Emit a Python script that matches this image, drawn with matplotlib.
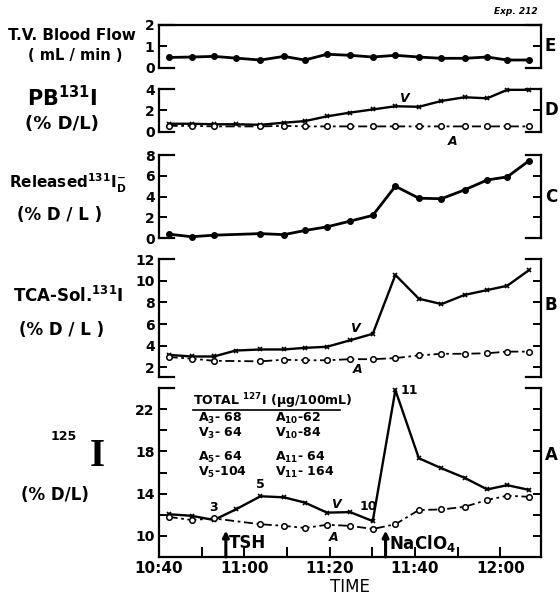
import numpy as np
import matplotlib
matplotlib.use('Agg')
import matplotlib.pyplot as plt

plt.rcParams['font.family'] = ['DejaVu Sans']
plt.rcParams['font.weight'] = 'bold'
plt.rcParams['mathtext.fontset'] = 'dejavusans'
plt.rcParams['mathtext.default'] = 'bf'

nan = np.nan

# minutes after 10:40 for each sample
minutes = [2.3, 7.7, 12.9, 18.0, 23.8, 29.3, 34.2, 39.4, 44.8, 50.1,
           55.4, 60.9, 66.2, 71.6, 76.9, 81.6, 86.7]
tsh_time = 15.7
naclo4_time = 53.1

time_ticks = [0, 20, 40, 60, 80]
time_labels = ['10:40', '11:00', '11:20', '11:40', '12:00']

flow = [0.48, 0.50, 0.53, 0.45, 0.36, 0.53, 0.36, 0.63, 0.58, 0.50,
        0.58, 0.50, 0.44, 0.44, 0.50, 0.36, 0.36]

pb_v = [0.75, 0.75, 0.7, 0.7, 0.65, 0.85, 1.0, 1.45, 1.8, 2.1,
        2.4, 2.35, 2.9, 3.25, 3.15, 3.95, 3.95]
pb_a = [0.55, 0.55, 0.5, nan, 0.5, 0.55, 0.5, 0.5, 0.5, 0.5,
        0.5, 0.5, 0.5, 0.5, 0.5, 0.5, 0.5]

released = [0.4, 0.15, 0.3, nan, 0.45, 0.35, 0.75, 1.1, 1.65, 2.2,
            5.0, 3.85, 3.8, 4.65, 5.6, 5.9, 7.45]

tca_v = [3.15, 3.0, 3.0, 3.55, 3.65, 3.65, 3.8, 3.9, 4.5, 5.1,
         10.55, 8.35, 7.85, 8.7, 9.15, 9.55, 11.0]
tca_a = [2.95, 2.8, 2.6, nan, 2.55, 2.7, 2.65, 2.65, 2.75, 2.75,
         2.85, 3.1, 3.25, 3.25, 3.3, 3.45, 3.45]

i125_v = [12.05, 11.9, 11.5, 12.5, 13.75, 13.65, 13.15, 12.2, 12.25, 11.4,
          23.8, 17.35, 16.4, 15.5, 14.4, 14.8, 14.35]
i125_a = [11.8, 11.5, 11.65, nan, 11.1, 10.95, 10.75, 11.05, 10.95, 10.65,
          11.1, 12.45, 12.5, 12.75, 13.4, 13.8, 13.7]

W, H = 560, 599
t = np.array(minutes)


def fpos(x, y):
    return x / W, 1 - y / H


def box(top, bottom):
    left, right = 158.8, 541
    return [left / W, 1 - bottom / H, (right - left) / W, (bottom - top) / H]


def frame(ax, ylim, yticks):
    ax.set_xlim(0, 89.5)
    ax.set_ylim(*ylim)
    for s in ['top', 'bottom']:
        ax.spines[s].set_visible(False)
    for s in ['left', 'right']:
        ax.spines[s].set_linewidth(1.6)
    ax.set_yticks(yticks)
    ax.tick_params(axis='y', which='both', direction='in', left=True, right=True,
                   length=6, width=1.4, labelsize=10, pad=3)
    ax.set_xticks([])
    for y in ylim:
        ax.axhline(y, xmin=0, xmax=0.04, color='k', lw=1.6, clip_on=False)
        ax.axhline(y, xmin=0.96, xmax=1, color='k', lw=1.6, clip_on=False)
    ax.patch.set_alpha(0)


def solid(ax, y):
    y = np.array(y)
    k = ~np.isnan(y)
    ax.plot(t[k], y[k], '-o', color='k', lw=2, ms=4, clip_on=False)


def vline(ax, y):
    y = np.array(y)
    k = ~np.isnan(y)
    ax.plot(t[k], y[k], '-x', color='k', lw=1.7, ms=3.5, mew=1.2, clip_on=False)


def aline(ax, y):
    y = np.array(y)
    k = ~np.isnan(y)
    ax.plot(t[k], y[k], marker='o', ls=(0, (5, 2, 1.5, 2)), color='k', lw=1.3,
            ms=4, mfc='white', mew=1.1, clip_on=False)


fig = plt.figure(figsize=(W / 100, H / 100), dpi=100)

# E: blood flow
axE = fig.add_axes(box(25, 67.7))
frame(axE, (0, 2), [0, 1, 2])
axE.spines['top'].set_visible(True)
axE.spines['top'].set_linewidth(1.6)
solid(axE, flow)

# D: PB131I
axD = fig.add_axes(box(89.3, 131.7))
frame(axD, (0, 4), [0, 2, 4])
vline(axD, pb_v)
aline(axD, pb_a)
axD.text(57.5, 2.5, 'V', fontsize=9, style='italic', ha='center', va='bottom')
axD.text(68.8, -0.35, 'A', fontsize=9, style='italic', ha='center', va='top')

# C: released
axC = fig.add_axes(box(155, 238.3))
frame(axC, (0, 8), [0, 2, 4, 6, 8])
solid(axC, released)

# B: TCA-soluble
axB = fig.add_axes(box(259.3, 377))
frame(axB, (1.1, 12), [2, 4, 6, 8, 10, 12])
vline(axB, tca_v)
aline(axB, tca_a)
axB.text(46, 5.0, 'V', fontsize=9, style='italic', ha='center', va='bottom')
axB.text(46.5, 2.4, 'A', fontsize=9, style='italic', ha='center', va='top')

# A: 125I
axA = fig.add_axes(box(388, 557))
axA.set_xlim(0, 89.5)
axA.set_ylim(8, 24)
axA.spines['top'].set_visible(False)
for s in ['left', 'right', 'bottom']:
    axA.spines[s].set_linewidth(1.6)
axA.set_yticks([10, 14, 18, 22])
axA.set_yticks([12, 16, 20, 24], minor=True)
axA.tick_params(axis='y', which='both', direction='in', left=True, right=True,
                length=6, width=1.4, labelsize=10, pad=3)
axA.set_xticks(time_ticks)
axA.set_xticklabels(time_labels)
axA.set_xticks([10, 30, 50, 70], minor=True)
axA.tick_params(axis='x', which='both', direction='in', length=7, width=1.4,
                labelsize=11, pad=3)
axA.axhline(24, xmin=0, xmax=0.04, color='k', lw=1.6, clip_on=False)
axA.axhline(24, xmin=0.96, xmax=1, color='k', lw=1.6, clip_on=False)
vline(axA, i125_v)
aline(axA, i125_a)
for i, lab in [(2, '3'), (4, '5'), (9, '10'), (10, '11')]:
    if lab == '11':
        axA.annotate(lab, (t[i], i125_v[i]), xytext=(4, 0), textcoords='offset points',
                     fontsize=9, ha='left', va='center')
    elif lab == '10':
        axA.annotate(lab, (t[i], i125_v[i]), xytext=(-3, 6), textcoords='offset points',
                     fontsize=9, ha='center', va='bottom')
    else:
        axA.annotate(lab, (t[i], i125_v[i]), xytext=(0, 4), textcoords='offset points',
                     fontsize=9, ha='center', va='bottom')
axA.text(41.5, 12.35, 'V', fontsize=9, style='italic', ha='center', va='bottom')
axA.text(41.0, 10.5, 'A', fontsize=9, style='italic', ha='center', va='top')

for tt, name in [(tsh_time, 'TSH'), (naclo4_time, 'NaClO$_4$')]:
    axA.annotate('', xy=(tt, 10.5), xytext=(tt, 8),
                 arrowprops=dict(arrowstyle='-|>', color='k', lw=2.2,
                                 mutation_scale=9, shrinkA=0, shrinkB=0))
    axA.text(tt + 0.8, 9.3, name, fontsize=12, ha='left', va='center')

axA.set_xlabel('TIME', fontsize=12, labelpad=1)

# table of total 127I
fig.text(*fpos(193, 401), 'TOTAL $^{127}$I ($\\mu$g/100mL)', fontsize=9, va='center')
fig.add_artist(plt.Line2D([193 / W, 340 / W], [1 - 409.5 / H, 1 - 409.5 / H],
                          color='k', lw=1.2))
rows = [(418, 'A$_3$- 68', 'A$_{10}$-62'), (433, 'V$_3$- 64', 'V$_{10}$-84'),
        (457, 'A$_5$- 64', 'A$_{11}$- 64'), (472, 'V$_5$-104', 'V$_{11}$- 164')]
for y, a, b in rows:
    fig.text(*fpos(198, y), a, fontsize=9, va='center')
    fig.text(*fpos(275, y), b, fontsize=9, va='center')

# left labels
fig.text(*fpos(72, 35), 'T.V. Blood Flow', fontsize=11, ha='center', va='center')
fig.text(*fpos(75, 56), '( mL / min )', fontsize=10.5, ha='center', va='center')
fig.text(*fpos(62, 98), 'PB$^{131}$I', fontsize=15, ha='center', va='center')
fig.text(*fpos(62, 124), '(% D/L)', fontsize=13, ha='center', va='center')
fig.text(*fpos(68, 183), 'Released$^{131}$I$^{-}_{D}$', fontsize=11, ha='center', va='center')
fig.text(*fpos(60, 215), '(% D / L )', fontsize=12, ha='center', va='center')
fig.text(*fpos(68, 296), 'TCA-Sol.$^{131}$I', fontsize=12, ha='center', va='center')
fig.text(*fpos(62, 330), '(% D / L )', fontsize=12, ha='center', va='center')
fig.text(*fpos(64, 436), '125', fontsize=9, ha='center', va='center')
fig.text(*fpos(97, 457), 'I', fontsize=28, family='Liberation Serif', ha='center', va='center')
fig.text(*fpos(55, 495), '(% D/L)', fontsize=12, ha='center', va='center')

# panel letters
for y, letter in [(46, 'E'), (110, 'D'), (197, 'C'), (305, 'B'), (455, 'A')]:
    fig.text(*fpos(545, y), letter, fontsize=12, ha='left', va='center')
fig.text(*fpos(516, 12), 'Exp. 212', fontsize=6.5, style='italic', ha='center', va='center')

fig.savefig('out.png', dpi=100)
